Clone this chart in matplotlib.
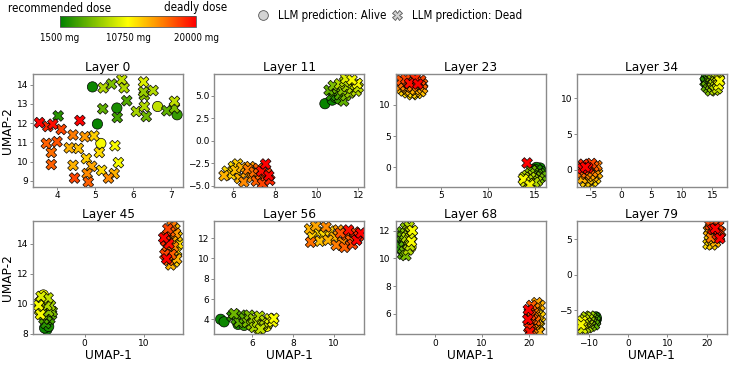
import numpy as np
import matplotlib
matplotlib.use("Agg")
import matplotlib.pyplot as plt
from matplotlib import font_manager
from matplotlib.font_manager import FontProperties
from matplotlib.colors import LinearSegmentedColormap, Normalize
from matplotlib.cm import ScalarMappable
from matplotlib.lines import Line2D
from matplotlib.ticker import MultipleLocator

# dose given to each sample (mg), same samples in every layer
doses = [1800, 2000, 2500, 3000, 3500, 4000, 4500, 5000, 5000, 5500,
         6000, 6000, 6500, 7000, 7500, 8000, 8000, 8000, 8000, 8500,
         8500, 8500, 9500, 10500, 10500, 10500, 12000, 12000, 12500, 12500,
         13000, 13500, 13500, 13500, 14000, 14500, 15000, 15000, 15500, 16000,
         16500, 16500, 16500, 17000, 17500, 17500, 18500, 19500, 20000, 20000]
# 1 = LLM prediction Alive, 0 = Dead
alive = [1, 1, 1, 0, 1, 0, 0, 0, 0, 0,
         0, 0, 0, 0, 0, 0, 0, 0, 0, 1,
         0, 0, 0, 0, 1, 0, 0, 0, 0, 0,
         0, 0, 0, 0, 0, 0, 0, 0, 0, 0,
         0, 0, 0, 0, 0, 0, 0, 0, 0, 0]

layer_names = ["Layer 0", "Layer 11", "Layer 23", "Layer 34",
               "Layer 45", "Layer 56", "Layer 68", "Layer 79"]

x_l0 = [5.06, 4.93, 5.57, 4.03, 7.15, 5.58, 5.83, 5.20, 6.88, 6.34,
        5.43, 7.08, 6.29, 6.27, 6.08, 5.21, 5.76, 6.52, 6.29, 6.64,
        5.70, 7.08, 6.27, 5.52, 5.15, 5.61, 5.17, 5.11, 4.97, 4.77,
        4.56, 4.32, 4.42, 5.50, 4.91, 4.73, 4.79, 5.35, 4.42, 3.85,
        3.72, 3.85, 4.82, 4.00, 4.11, 4.46, 3.76, 3.89, 3.54, 4.60]
y_l0 = [11.95, 13.88, 12.78, 12.37, 12.43, 12.29, 13.16, 12.74, 12.64, 12.34,
        14.03, 12.78, 13.44, 13.62, 12.60, 13.83, 13.83, 13.69, 12.86, 12.86,
        14.26, 13.13, 14.14, 10.82, 10.94, 9.94, 9.54, 10.47, 11.33, 10.15,
        10.68, 10.71, 9.80, 9.37, 9.75, 11.29, 9.37, 9.14, 11.38, 10.47,
        10.94, 9.84, 8.93, 11.03, 11.67, 9.14, 11.82, 11.94, 12.02, 12.13]

x_l11 = [10.40, 10.75, 10.90, 10.70, 11.10, 10.85, 11.10, 10.60, 11.30, 11.00,
         11.40, 10.80, 11.25, 11.60, 11.45, 11.10, 11.70, 11.35, 11.90, 11.30,
         11.85, 12.00, 11.40, 11.95, 11.60, 11.70, 5.70, 6.00, 5.90, 6.20,
         6.10, 5.55, 6.40, 6.30, 6.60, 6.80, 6.50, 6.90, 6.70, 7.00,
         7.10, 7.30, 7.20, 7.50, 7.40, 7.60, 7.75, 7.35, 7.55, 7.70]
y_l11 = [4.10, 4.50, 4.80, 5.00, 4.60, 5.40, 5.10, 5.60, 4.40, 5.80,
         5.00, 6.10, 5.60, 5.30, 6.00, 6.30, 5.80, 6.55, 5.50, 5.90,
         6.20, 5.90, 6.90, 6.35, 6.10, 6.75, -3.40, -2.90, -3.80, -2.60,
         -3.30, -3.90, -3.00, -4.20, -3.60, -2.90, -4.60, -4.10, -3.20, -3.50,
         -4.50, -3.80, -3.10, -4.20, -4.80, -3.60, -4.40, -3.40, -2.60, -3.90]

x_l23 = [15.6, 15.2, 15.7, 15.3, 15.0, 15.6, 14.9, 15.3, 15.8, 14.7,
         15.1, 15.5, 14.5, 14.9, 15.3, 14.2, 14.6, 15.0, 14.3, 14.7,
         13.9, 14.4, 14.0, 13.8, 14.2, 14.5, 1.9, 1.4, 2.4, 1.0,
         2.8, 1.7, 0.7, 2.2, 3.0, 1.2, 0.6, 2.6, 1.9, 0.9,
         3.0, 1.5, 2.4, 0.7, 2.8, 1.2, 2.2, 1.6, 2.5, 14.2]
y_l23 = [-0.1, 0.0, -0.6, -0.4, -0.3, -1.0, -0.8, -1.1, -1.4, -0.5,
         -1.5, -1.8, -1.0, -1.9, -2.2, -1.3, -1.6, -2.4, -2.0, -2.2,
         -1.6, -2.6, -2.3, -1.9, -2.7, -2.8, 11.6, 11.9, 11.8, 12.2,
         12.1, 12.3, 12.6, 12.4, 12.6, 12.8, 13.0, 13.0, 12.9, 13.4,
         13.3, 13.6, 13.6, 13.9, 13.9, 14.1, 14.2, 13.4, 13.3, 0.7]

x_l34 = [13.9, 14.1, 14.0, 13.8, 14.3, 14.2, 14.5, 14.0, 14.6, 14.4,
         14.8, 14.7, 15.0, 15.0, 15.3, 15.2, 15.5, 15.4, 15.7, 15.6,
         15.9, 15.8, 16.1, 16.0, 15.9, 16.2, -5.2, -4.6, -5.8, -4.1,
         -5.3, -4.5, -6.3, -3.8, -5.0, -4.2, -5.7, -4.6, -3.9, -6.5,
         -5.1, -4.4, -6.0, -5.5, -4.8, -6.6, -6.1, -5.4, -6.3, -5.8]
y_l34 = [12.6, 12.2, 12.9, 12.3, 12.7, 11.8, 12.4, 11.6, 12.9, 11.3,
         12.1, 11.0, 12.6, 11.5, 12.9, 11.9, 12.3, 11.1, 12.8, 11.6,
         12.2, 11.3, 12.6, 11.8, 12.0, 12.4, -2.0, -1.6, -1.7, -1.2,
         -1.3, -0.9, -1.2, -0.5, -0.7, 0.0, -0.6, -0.3, 0.6, -0.4,
         0.1, 0.5, 0.0, 0.6, 0.9, 0.4, 0.8, 0.3, 0.2, 0.4]

x_l45 = [-6.4, -6.8, -6.1, -6.6, -6.3, -5.9, -6.9, -5.6, -6.4, -7.1,
         -5.5, -6.7, -6.1, -7.3, -5.8, -6.9, -6.4, -7.6, -7.1, -6.6,
         -7.7, -6.2, -7.4, -7.8, -7.0, -7.5, 15.6, 15.9, 15.2, 15.7,
         15.3, 14.6, 15.0, 15.6, 14.9, 15.4, 14.4, 15.1, 14.8, 14.2,
         14.5, 13.9, 14.7, 13.8, 14.1, 13.6, 13.7, 14.3, 13.9, 13.4]
y_l45 = [8.3, 8.4, 8.5, 8.7, 8.9, 9.0, 9.0, 9.3, 9.2, 9.3,
         9.5, 9.6, 9.5, 9.7, 9.9, 10.0, 9.9, 10.1, 10.3, 10.2,
         9.6, 10.4, 10.5, 9.9, 10.6, 9.3, 13.5, 14.0, 12.8, 14.5,
         15.0, 12.6, 13.2, 13.0, 14.2, 14.7, 13.6, 13.8, 15.2, 12.9,
         14.8, 13.8, 13.3, 14.5, 15.0, 13.3, 14.2, 14.0, 13.0, 14.4]

x_l56 = [4.45, 4.62, 5.30, 5.00, 5.60, 5.20, 5.45, 5.35, 5.60, 5.10,
         5.75, 5.85, 5.95, 6.05, 6.10, 6.25, 6.35, 6.50, 6.60, 6.30,
         6.75, 6.40, 6.85, 7.00, 6.70, 7.05, 9.20, 9.50, 8.90, 9.80,
         9.30, 8.80, 10.00, 9.70, 9.10, 10.20, 10.40, 9.60, 10.10, 8.85,
         10.50, 10.60, 10.80, 10.30, 11.00, 10.90, 11.20, 10.70, 11.10, 11.30]
y_l56 = [4.00, 3.75, 3.50, 4.30, 3.40, 4.00, 4.40, 3.70, 4.10, 4.55,
         3.70, 4.40, 3.45, 4.05, 3.20, 3.70, 4.30, 3.40, 3.90, 3.00,
         3.60, 3.05, 4.05, 3.75, 3.30, 4.10, 12.6, 12.3, 12.2, 12.7,
         11.7, 12.9, 12.1, 11.8, 13.2, 12.8, 11.6, 13.1, 11.3, 11.6,
         11.1, 12.3, 11.8, 12.5, 12.6, 11.4, 12.2, 12.8, 11.8, 12.5]

x_l68 = [-7.3, -7.1, -7.0, -7.4, -6.8, -7.2, -6.9, -6.6, -7.0, -6.5,
         -6.4, -6.2, -6.3, -5.9, -5.8, -6.1, -5.7, -5.5, -5.4, -5.6,
         -5.2, -5.3, -4.9, -5.0, -5.1, -4.8, 22.3, 21.9, 22.5, 21.6,
         22.0, 22.4, 21.4, 22.2, 21.7, 21.2, 21.3, 20.9, 21.0, 21.5,
         20.8, 20.5, 20.6, 20.3, 20.1, 20.4, 20.0, 20.2, 19.9, 19.8]
y_l68 = [11.0, 10.6, 11.4, 10.8, 10.9, 11.6, 10.3, 11.2, 11.9, 10.5,
         11.7, 10.2, 12.2, 11.0, 12.0, 11.5, 10.6, 12.3, 11.4, 11.8,
         11.9, 10.9, 11.6, 11.2, 10.8, 12.0, 5.1, 6.3, 5.8, 4.8,
         5.5, 6.6, 5.8, 4.7, 6.8, 5.2, 6.4, 4.9, 6.1, 5.5,
         5.6, 4.8, 6.6, 5.3, 6.1, 5.9, 5.0, 4.7, 6.3, 5.6]

x_l79 = [-8.0, -8.3, -8.1, -8.4, -8.6, -8.2, -8.8, -9.0, -8.5, -9.2,
         -9.3, -9.5, -9.8, -9.6, -10.1, -10.0, -10.4, -10.6, -10.8, -10.5,
         -11.0, -11.2, -11.5, -11.6, -11.1, -11.9, 20.3, 20.8, 21.3, 20.6,
         21.8, 20.4, 21.4, 22.2, 20.9, 22.0, 22.5, 21.6, 21.1, 22.8,
         23.2, 22.4, 21.9, 23.5, 20.8, 23.0, 22.6, 21.5, 22.1, 23.3]
y_l79 = [-6.2, -6.6, -5.9, -6.0, -6.8, -6.5, -6.2, -6.6, -7.0, -6.0,
         -7.2, -6.4, -6.9, -5.8, -7.4, -6.2, -6.7, -5.9, -7.5, -7.1,
         -6.3, -6.9, -7.6, -6.5, -7.3, -7.0, 4.3, 4.8, 4.2, 5.6,
         5.0, 6.2, 5.8, 4.6, 6.6, 6.0, 5.2, 6.9, 5.2, 6.2,
         5.4, 6.8, 7.2, 6.0, 7.0, 6.9, 5.7, 6.4, 6.5, 5.1]

layer_x = [x_l0, x_l11, x_l23, x_l34, x_l45, x_l56, x_l68, x_l79]
layer_y = [y_l0, y_l11, y_l23, y_l34, y_l45, y_l56, y_l68, y_l79]

x_limits = [(3.37, 7.31), (5.08, 12.3), (0.1, 16.2), (-7.2, 17.4),
            (-8.76, 16.7), (4.14, 11.48), (-8.4, 23.6), (-12.97, 25.1)]
y_limits = [(8.7, 14.55), (-5.1, 7.4), (-3.05, 14.9), (-2.3, 13.35),
            (8.0, 15.49), (2.55, 13.64), (4.55, 12.65), (-8.3, 7.48)]
x_steps = [1, 2, 5, 5, 10, 2, 10, 10]
y_steps = [1, 2.5, 5, 5, 2, 2, 2, 5]

dose_ticks = [1500, 10750, 20000]
legend_labels = ["LLM prediction: Alive", "LLM prediction: Dead"]

cmap = LinearSegmentedColormap.from_list("dose", ["green", "yellow", "red"])
norm = Normalize(vmin=1500, vmax=20000)

doses = np.array(doses)
alive = np.array(alive, dtype=bool)


def narrow_font():
    # header text in the original is narrow; look for any condensed face
    for fam, stretch in [("Liberation Sans Narrow", "normal"),
                         ("DejaVu Sans", "condensed"), ("Noto Sans", "condensed"),
                         ("Open Sans", "condensed"), ("Roboto", "condensed")]:
        try:
            fp = FontProperties(family=fam, stretch=stretch)
            path = font_manager.findfont(fp, fallback_to_default=False)
        except ValueError:
            continue
        if "ondensed" in path or "Narrow" in path:
            return fp
    return None


head_fp = narrow_font()
if head_fp is not None:
    head_kw = dict(fontproperties=head_fp)
    head_size, cb_size = 8.3, 7.0
else:
    head_kw = dict(family="DejaVu Sans")
    head_size, cb_size = 6.5, 5.6

fig, axes = plt.subplots(2, 4, figsize=(7.31, 3.66), dpi=100)
plt.subplots_adjust(left=33/731, right=727/731, top=1-74/366, bottom=1-334/366,
                    wspace=0.207, hspace=0.311)

for i, ax in enumerate(axes.flat):
    xs = np.array(layer_x[i])
    ys = np.array(layer_y[i])
    # circles first, crosses on top
    ax.scatter(xs[alive], ys[alive], c=doses[alive], cmap=cmap, norm=norm,
               marker="o", s=55, edgecolors="black", linewidths=0.5)
    ax.scatter(xs[~alive], ys[~alive], c=doses[~alive], cmap=cmap, norm=norm,
               marker="X", s=60, edgecolors="black", linewidths=0.5)
    ax.set_xlim(x_limits[i])
    ax.set_ylim(y_limits[i])
    ax.xaxis.set_major_locator(MultipleLocator(x_steps[i]))
    ax.yaxis.set_major_locator(MultipleLocator(y_steps[i]))
    ax.set_title(layer_names[i], fontsize=8.7, pad=2)
    ax.tick_params(labelsize=6.5, length=2, width=0.6, color="#777777", pad=1.5)
    for sp in ax.spines.values():
        sp.set_color("#8a8a8a")
        sp.set_linewidth(1.0)
    if i % 4 == 0:
        ax.set_ylabel("UMAP-2", fontsize=8.7, labelpad=2)
    if i >= 4:
        ax.set_xlabel("UMAP-1", fontsize=8.7, labelpad=1)

# colorbar on top
cax = fig.add_axes([60/731, 1-27/366, 136/731, 11/366])
cb = fig.colorbar(ScalarMappable(norm=norm, cmap=cmap), cax=cax, orientation="horizontal")
cb.set_ticks(dose_ticks)
cb.set_ticklabels([f"{d} mg" for d in dose_ticks])
cb.ax.tick_params(length=0, pad=4)
for lab in cb.ax.get_xticklabels():
    if head_fp is not None:
        lab.set_fontproperties(head_fp)
    lab.set_fontsize(cb_size)
cb.outline.set_linewidth(0.6)
cb.outline.set_edgecolor("#555555")
fig.text(60/731, 1-8/366, "recommended dose", ha="center", va="center",
         fontsize=head_size, **head_kw)
fig.text(196/731, 1-8/366, "deadly dose", ha="center", va="center",
         fontsize=head_size, **head_kw)

# legend for the two marker shapes
leg_marker_x = [263, 397]
leg_text_x = [278, 412]
for mk, mx, tx, lab in zip(["o", "X"], leg_marker_x, leg_text_x, legend_labels):
    fig.add_artist(Line2D([mx/731], [1-15/366], transform=fig.transFigure,
                          marker=mk, linestyle="", markersize=7,
                          markerfacecolor="#d3d3d3", markeredgecolor="#555555",
                          markeredgewidth=0.6))
    fig.text(tx/731, 1-15/366, lab, ha="left", va="center",
             fontsize=head_size, **head_kw)

fig.savefig("out.png", dpi=100)
